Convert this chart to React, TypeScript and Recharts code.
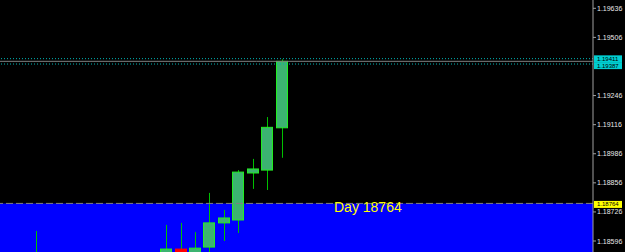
import React from "react";
import {
  ComposedChart,
  Bar,
  XAxis,
  YAxis,
  ReferenceArea,
  ReferenceLine,
} from "recharts";

// 41 time slots on the chart, candles only in the first 20
const slots = Array.from({ length: 41 }, (_, i) => `D${i + 1}`);

const opens: (number | null)[] = [
  null, null, 1.1847, null, null, null, null, null, null, null,
  null, 1.1853, 1.1856, 1.18528, 1.18569, 1.18677, 1.1869, 1.189, 1.18913, 1.19102,
];
const highs: (number | null)[] = [
  null, null, 1.18641, null, null, null, null, null, null, null,
  null, 1.18668, 1.18677, 1.18636, 1.18811, 1.18735, 1.18913, 1.18963, 1.1915, 1.19408,
];
const lows: (number | null)[] = [
  null, null, 1.1842, null, null, null, null, null, null, null,
  null, 1.18495, 1.1849, 1.185, 1.1851, 1.18596, 1.18632, 1.18829, 1.18824, 1.18968,
];
const closes: (number | null)[] = [
  null, null, 1.1851, null, null, null, null, null, null, null,
  null, 1.1856, 1.18525, 1.18564, 1.18677, 1.18699, 1.18904, 1.18918, 1.19104, 1.19399,
];

const priceTicks = [1.18596, 1.18726, 1.18856, 1.18986, 1.19116, 1.19246, 1.19506, 1.19636];
const boxLevel = 1.18764;
const upperLevel = 1.19411;
const lowerLevel = 1.19387;
const bidLevel = 1.19399;
const boxLabel = "Day 18764";

const rows = slots.map((slot, i) => ({
  slot,
  open: opens[i] ?? null,
  high: highs[i] ?? null,
  low: lows[i] ?? null,
  close: closes[i] ?? null,
}));

// badge colour + small vertical nudge so the two cyan tags don't collide
const badges: Record<string, { bg: string; dy: number }> = {
  [String(boxLevel)]: { bg: "#FFFF00", dy: 1 },
  [String(upperLevel)]: { bg: "#00CED1", dy: 0.2 },
  [String(lowerLevel)]: { bg: "#00CED1", dy: 1.6 },
};

function PriceTick(props: any) {
  const { x, y, payload } = props;
  const v = payload.value as number;
  const badge = badges[String(v)];
  const label = v.toFixed(5);
  if (badge) {
    return (
      <g>
        <rect x={x + 1} y={y + badge.dy - 3.5} width={28} height={7} fill={badge.bg} />
        <text
          x={x + 4}
          y={y + badge.dy}
          fontSize={6}
          fontFamily="Liberation Sans, Arial, sans-serif"
          fill="#000"
          dominantBaseline="central"
        >
          {label}
        </text>
      </g>
    );
  }
  return (
    <g>
      <line x1={x} x2={x + 3} y1={y} y2={y} stroke="#A0A0A0" />
      <text
        x={x + 4}
        y={y}
        fontSize={7}
        fontFamily="Liberation Sans, Arial, sans-serif"
        fill="#E8E8E8"
        dominantBaseline="central"
      >
        {label}
      </text>
    </g>
  );
}

function Candle(props: any) {
  const { x, y, width, height, payload } = props;
  if (payload.high == null || height == null) return null;
  const { open, high, low, close } = payload;
  const per = height / (high - low);
  const yOf = (v: number) => y + (high - v) * per;
  const cx = Math.round(x + width / 2) + 0.5;
  const up = close >= open;
  const top = yOf(Math.max(open, close));
  const bh = Math.max(1, Math.abs(open - close) * per);
  return (
    <g>
      <line x1={cx} x2={cx} y1={yOf(high)} y2={yOf(low)} stroke="#00C000" />
      <rect
        x={cx - 6}
        y={top}
        width={11}
        height={bh}
        fill={up ? "#3CB371" : "#FF0000"}
        stroke={up ? "#22EE22" : "#FF0000"}
      />
    </g>
  );
}

export default function App() {
  return (
    <div
      style={{
        position: "fixed",
        left: 0,
        top: 0,
        width: 625,
        height: 252,
        background: "#000",
      }}
    >
      <ComposedChart
        width={625}
        height={252}
        data={rows}
        margin={{ top: 0, right: 0, bottom: 0, left: 0 }}
        barCategoryGap={0}
      >
        <XAxis dataKey="slot" hide />
        <YAxis
          orientation="right"
          width={32}
          domain={[1.185469, 1.196731]}
          allowDataOverflow
          ticks={[...priceTicks, boxLevel, upperLevel, lowerLevel]}
          interval={0}
          tickSize={0}
          tickMargin={0}
          tickLine={false}
          axisLine={{ stroke: "#A0A0A0" }}
          tick={<PriceTick />}
        />
        <ReferenceArea
          y1={1.185469}
          y2={boxLevel}
          fill="#0000FF"
          fillOpacity={1}
          stroke="none"
        />
        <ReferenceLine y={upperLevel} stroke="#00B4B4" strokeDasharray="1 2" />
        <ReferenceLine y={lowerLevel} stroke="#00B4B4" strokeDasharray="1 2" />
        <ReferenceLine y={bidLevel} stroke="#808080" />
        <Bar
          dataKey={(d: any) => (d.high == null ? null : [d.low, d.high])}
          shape={<Candle />}
          isAnimationActive={false}
        />
        <ReferenceLine
          y={boxLevel}
          stroke="#808080"
          strokeDasharray="7 3"
          label={(p: any) => (
            <text
              x={p.viewBox.x + 334}
              y={p.viewBox.y + 8.3}
              fontSize={14}
              fontFamily="Liberation Sans, Arial, sans-serif"
              fill="#FFFF00"
            >
              {boxLabel}
            </text>
          )}
        />
      </ComposedChart>
    </div>
  );
}
